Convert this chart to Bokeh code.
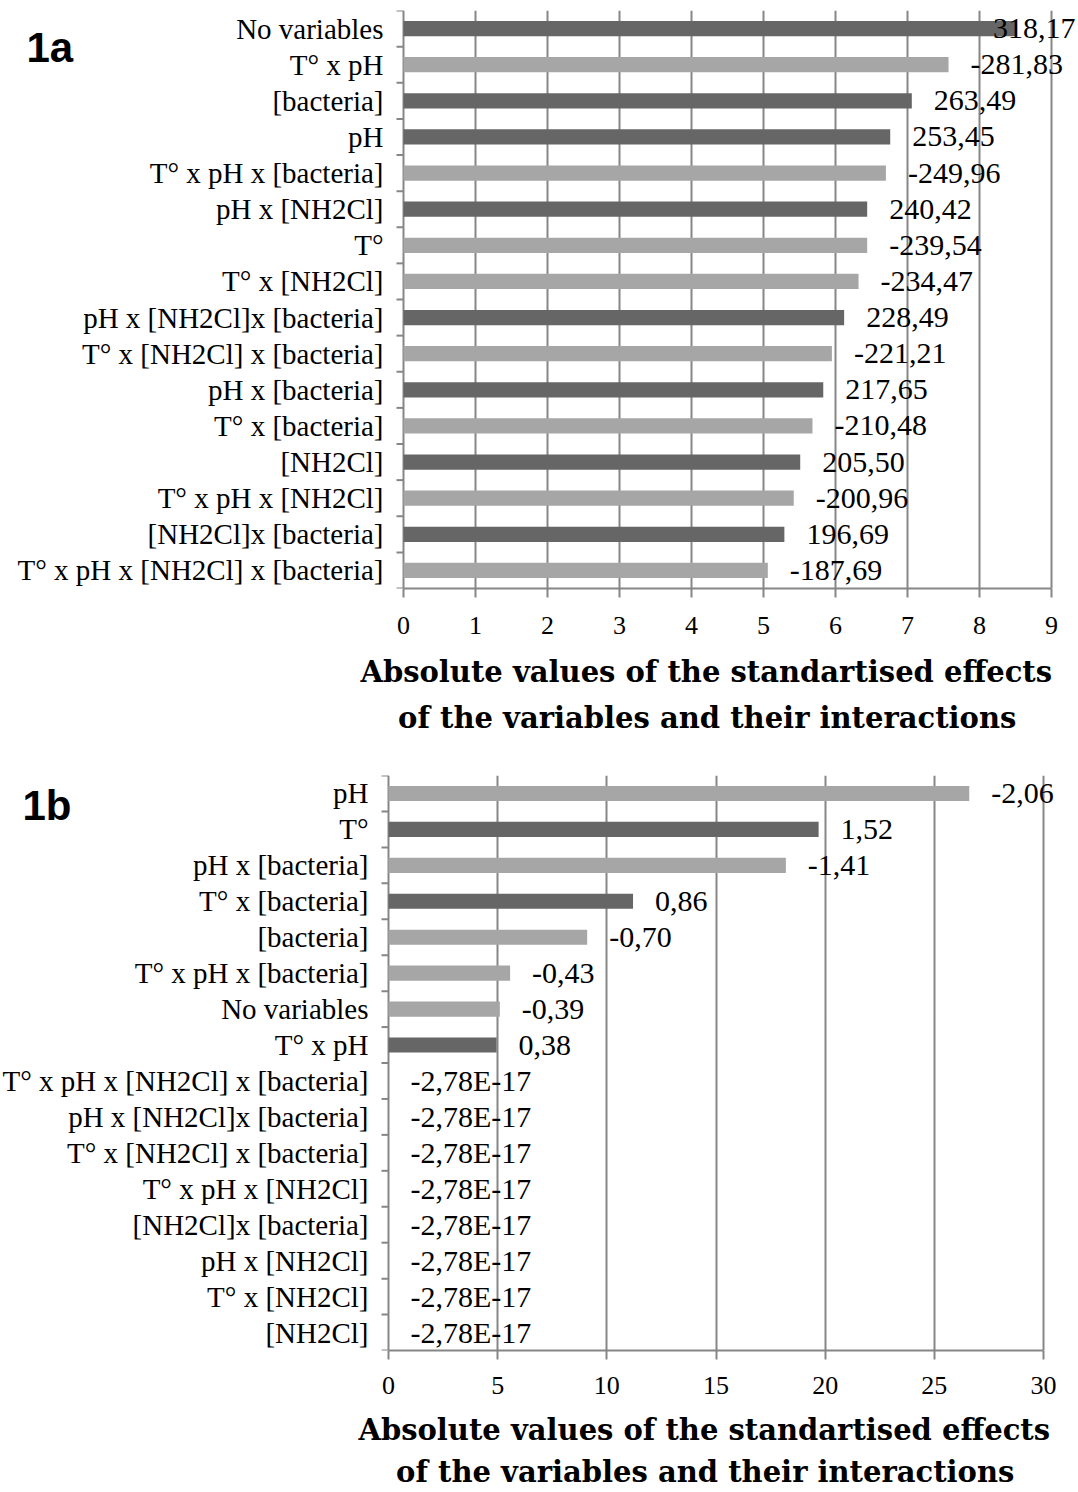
import math
from bokeh.plotting import figure
from bokeh.models import (Range1d, FixedTicker, ColumnDataSource, LabelSet, Label, Title)
from bokeh.core.properties import value
from bokeh.embed import file_html
from bokeh.resources import INLINE

# ---------------- data ----------------
cats_a = ["No variables", "T° x pH", "[bacteria]", "pH", "T° x pH x [bacteria]",
          "pH x [NH2Cl]", "T°", "T° x [NH2Cl]", "pH x [NH2Cl]x [bacteria]",
          "T° x [NH2Cl] x [bacteria]", "pH x [bacteria]", "T° x [bacteria]", "[NH2Cl]",
          "T° x pH x [NH2Cl]", "[NH2Cl]x [bacteria]", "T° x pH x [NH2Cl] x [bacteria]"]
bars_a = [8.50, 7.57, 7.06, 6.76, 6.70, 6.44, 6.44, 6.32, 6.12, 5.95, 5.83, 5.68, 5.51, 5.42, 5.29, 5.06]
effects_a = [318.17, -281.83, 263.49, 253.45, -249.96, 240.42, -239.54, -234.47, 228.49,
             -221.21, 217.65, -210.48, 205.50, -200.96, 196.69, -187.69]
ticks_a = [0, 1, 2, 3, 4, 5, 6, 7, 8, 9]

cats_b = ["pH", "T°", "pH x [bacteria]", "T° x [bacteria]", "[bacteria]", "T° x pH x [bacteria]",
          "No variables", "T° x pH", "T° x pH x [NH2Cl] x [bacteria]", "pH x [NH2Cl]x [bacteria]",
          "T° x [NH2Cl] x [bacteria]", "T° x pH x [NH2Cl]", "[NH2Cl]x [bacteria]", "pH x [NH2Cl]",
          "T° x [NH2Cl]", "[NH2Cl]"]
bars_b = [26.6, 19.7, 18.2, 11.2, 9.1, 5.57, 5.1, 4.95, 0, 0, 0, 0, 0, 0, 0, 0]
effects_b = [-2.06, 1.52, -1.41, 0.86, -0.70, -0.43, -0.39, 0.38,
             -2.78e-17, -2.78e-17, -2.78e-17, -2.78e-17, -2.78e-17, -2.78e-17, -2.78e-17, -2.78e-17]
ticks_b = [0, 5, 10, 15, 20, 25, 30]

title_line1 = "Absolute values of the standartised effects"
title_line2 = "of the variables and their interactions"

# ---------------- style ----------------
DARK = "#666666"
LIGHT = "#a6a6a6"
GRID = "#868686"
SERIF = "Liberation Serif"
TITLE_FONT = "DejaVu Serif"
TAG_FONT = "Liberation Sans"
W = 1078
VAL_SIZE = 30
CAT_SIZE = 29
TITLE_SIZE = 29
TITLE_EM = {title_line1: 23.8, title_line2: 21.2}   # approx. text width in em (DejaVu Serif Bold)

CHAR_W = {"-": 0.333, ",": 0.25, "E": 0.611}


def fmt(v):
    s = f"{v:.2E}" if (v != 0 and abs(v) < 1e-3) else f"{v:.2f}"
    return s.replace(".", ",")


def est_width(s, size):
    return sum(CHAR_W.get(c, 0.5) for c in s) * size


def panel(tag, cats, bars, effects, ticks, height, axis_left, axis_right, frame_top,
          frame_bottom, tag_xy, title_center, tick_standoff, title_gap, title_standoff):
    n = len(cats)
    x_end = ticks[-1]
    ppu = (axis_right - axis_left) / x_end
    row_h = (frame_bottom - frame_top) / n
    # frame spans the full width; the value axis starts at axis_left pixels
    x_start = -axis_left / ppu
    x_stop = (W - axis_left) / ppu
    pos = [n - 1 - i for i in range(n)]          # first category at the top
    bounds = [k - 0.5 for k in range(n + 1)]     # category boundaries (axis ticks)
    labels = [fmt(e) for e in effects]
    colors = [DARK if e > 0 else LIGHT for e in effects]
    label_x = []
    for b, s in zip(bars, labels):
        w = est_width(s, VAL_SIZE)
        right = axis_left + b * ppu + 22 + w
        limit = W - 3
        label_x.append((limit - w - 22 - axis_left) / ppu if right > limit else b)
    src = ColumnDataSource(dict(y=pos, cat=cats, bar=bars, label=labels, lx=label_x,
                                zero=[0] * n, color=colors))
    bsrc = ColumnDataSource(dict(y=bounds, x=[0] * (n + 1)))

    p = figure(width=W, height=height, x_range=Range1d(x_start, x_stop),
               y_range=Range1d(-0.5, n - 0.5),
               output_backend="svg", toolbar_location=None, y_axis_location=None,
               min_border_left=0, min_border_right=0,
               min_border_top=frame_top, min_border_bottom=height - frame_bottom)
    p.outline_line_color = None
    p.background_fill_color = "white"
    p.border_fill_color = "white"

    # bottom value axis, limited to the tick span
    xa = p.xaxis[0]
    xa.bounds = (0, x_end)
    xa.ticker = FixedTicker(ticks=ticks)
    xa.axis_line_color = GRID
    xa.axis_line_width = 2
    xa.major_tick_line_color = GRID
    xa.major_tick_line_width = 2
    xa.major_tick_out = 9
    xa.major_tick_in = 0
    xa.minor_tick_line_color = None
    xa.major_label_standoff = tick_standoff
    xa.major_label_text_font = SERIF
    xa.major_label_text_font_size = "26px"
    xa.major_label_text_color = "black"
    # blank spacer between tick labels and the two-line axis title
    xa.axis_label = " "
    xa.axis_label_text_font_size = "1px"
    xa.axis_label_standoff = title_gap

    for line in (title_line1, title_line2):
        w = TITLE_EM[line] * TITLE_SIZE
        p.add_layout(Title(text=line, align="left", offset=title_center - w / 2,
                           vertical_align="middle", standoff=title_standoff,
                           text_font=TITLE_FONT, text_font_style="bold",
                           text_font_size=f"{TITLE_SIZE}px", text_color="black"), "below")

    # vertical gridlines (the one at 0 is the category axis line)
    p.xgrid[0].ticker = xa.ticker
    p.xgrid[0].grid_line_color = GRID
    p.xgrid[0].grid_line_width = 2
    p.xgrid[0].bounds = (0, x_end)
    for g in p.ygrid:
        g.visible = False

    # category boundary tick marks on the category axis
    p.ray(x="x", y="y", length=7, length_units="screen", angle=math.pi,
          line_color=GRID, line_width=2, source=bsrc)

    # category labels
    p.add_layout(LabelSet(x="zero", y="y", text="cat", source=src, x_offset=-20,
                          text_baseline="middle", text_align="right",
                          text_font=value(SERIF), text_font_size=f"{CAT_SIZE}px",
                          text_color="black"))

    p.hbar(y="y", left=0, right="bar", height=0.42, fill_color="color",
           line_color=None, source=src)

    p.add_layout(LabelSet(x="lx", y="y", text="label", source=src, x_offset=22,
                          text_baseline="middle", text_align="left",
                          text_font=value(SERIF), text_font_size=f"{VAL_SIZE}px",
                          text_color="black"))

    tx, ty = tag_xy
    p.add_layout(Label(x=(tx - axis_left) / ppu, y=n - 0.5 - (ty - frame_top) / row_h,
                       text=tag, text_font=TAG_FONT,
                       text_font_style="bold", text_font_size="42px",
                       text_baseline="alphabetic", text_align="left", text_color="black"))
    return p


p1 = panel("1a", cats_a, bars_a, effects_a, ticks_a, height=740,
           axis_left=403, axis_right=1051, frame_top=10, frame_bottom=592,
           tag_xy=(26, 47), title_center=705, tick_standoff=19, title_gap=8, title_standoff=10)
p2 = panel("1b", cats_b, bars_b, effects_b, ticks_b, height=752,
           axis_left=388, axis_right=1043, frame_top=35, frame_bottom=614,
           tag_xy=(22, 65), title_center=703, tick_standoff=17, title_gap=8, title_standoff=6)

open("out.html", "w").write(file_html([p1, p2], INLINE))
